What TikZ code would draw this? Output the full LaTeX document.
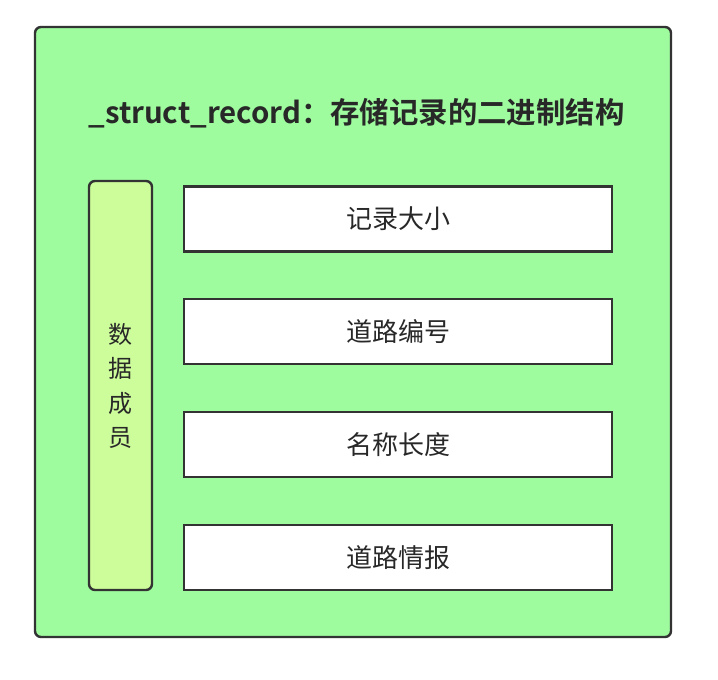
\documentclass[tikz,border=0pt]{standalone}
\usepackage{fontspec}
\setmainfont{Noto Sans CJK SC}
\newfontfamily\cjkbold{Noto Sans CJK SC Bold}
\definecolor{outergreen}{RGB}{158,251,158}
\definecolor{bargreen}{RGB}{205,252,155}
\definecolor{linegray}{RGB}{51,51,51}
\definecolor{txtgray}{RGB}{40,40,40}
\tikzset{
  outerbox/.style={draw=linegray,line width=2.4pt,fill=outergreen,rounded corners=6pt},
  barbox/.style={draw=linegray,line width=2.4pt,fill=bargreen,rounded corners=6pt},
  fieldbox/.style={draw=linegray,line width=2.4pt,fill=white,minimum width=428pt,minimum height=65pt,inner sep=0pt,
    font=\fontsize{26}{30}\selectfont,text=txtgray},
}
\begin{document}
\begin{tikzpicture}[x=1pt,y=-1pt]
\useasboundingbox (0,0) rectangle (718,680);
\draw[outerbox] (35,27) rectangle (671,637);
\node[text=txtgray,font=\cjkbold\fontsize{29.4}{34}\selectfont,inner sep=0pt] (title) at (356.5,113) {\_struct\_record：存储记录的二进制结构};
\draw[barbox] (89,181) rectangle (152,590);
\node[text=txtgray,font=\fontsize{24}{34.5}\selectfont,align=center,inner sep=0pt] (bar) at (120.5,386) {数\\据\\成\\员};
\node[fieldbox] (f1) at (398,219) {记录大小};
\node[fieldbox] (f2) at (398,331.5) {道路编号};
\node[fieldbox] (f3) at (398,444.5) {名称长度};
\node[fieldbox] (f4) at (398,557.5) {道路情报};
\end{tikzpicture}
\end{document}
